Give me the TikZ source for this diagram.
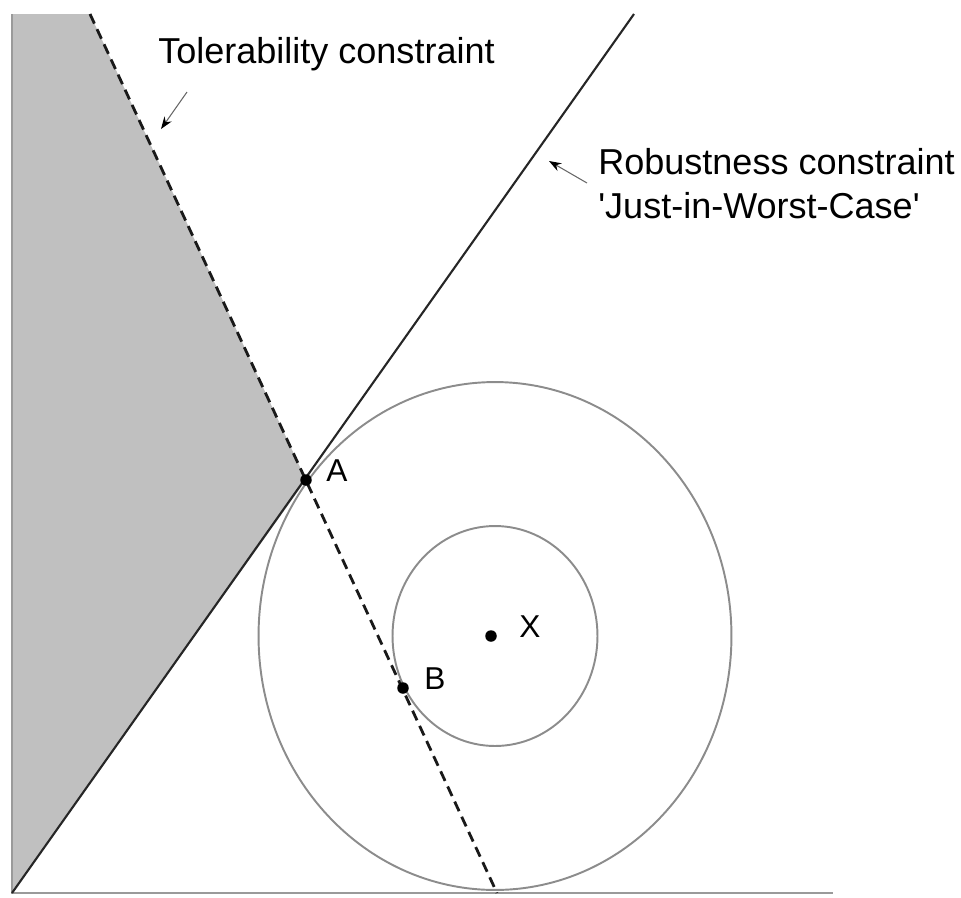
\documentclass[tikz,border=0pt]{standalone}
\usepackage{fontspec}
\setmainfont{Liberation Sans}
\usetikzlibrary{arrows.meta}
\definecolor{regiongray}{HTML}{C0C0C0}
\definecolor{axisgray}{HTML}{9A9A9A}
\definecolor{circgray}{HTML}{8C8C8C}
\tikzset{
  axisline/.style={draw=axisgray, line width=1.1pt},
  toler/.style={draw=black!90, line width=1.6pt, dash pattern=on 6pt off 3.5pt},
  robust/.style={draw=black!85, line width=1.2pt},
  ring/.style={draw=circgray, line width=1.1pt},
  pointer/.style={draw=black!60, line width=0.6pt, -{Stealth[length=7pt,width=5pt,black]}},
  dotpt/.style={circle, fill=black, inner sep=0pt, minimum size=0.23cm},
  bigtext/.style={font=\fontsize{20.5}{24.5}\selectfont, anchor=base west, inner sep=0pt, align=left},
  ptlabel/.style={font=\fontsize{18}{21}\selectfont, anchor=base west, inner sep=0pt}
}
\begin{document}
\begin{tikzpicture}[x=0.02cm, y=-0.02cm]
\useasboundingbox (0,0) rectangle (961,897);
% key points
\coordinate (O) at (12,893);
\coordinate (Ytop) at (12,14);
\coordinate (Xend) at (833,893);
\coordinate (Dtop) at (90,14);
\coordinate (Dbot) at (497,893);
\coordinate (Rtop) at (634,14);
\coordinate (Apt) at (306,480);
\coordinate (Ctr) at (495,636);
% shaded infeasible region
\fill[regiongray] (Ytop) -- (Dtop) -- (Apt) -- (O) -- cycle;
% axes
\draw[axisline] (Ytop) -- (O) -- (Xend);
% circles
\draw[ring] (Ctr) ellipse [x radius=4.73cm, y radius=5.08cm];
\draw[ring] (Ctr) ellipse [x radius=2.05cm, y radius=2.2cm];
% constraints
\draw[toler] (Dtop) -- (Dbot);
\draw[robust] (O) -- (Rtop);
% points
\node[dotpt] (A) at (Apt) {};
\node[dotpt] (B) at (403,688) {};
\node[dotpt] (X) at (491,636) {};
\node[ptlabel] (la) at (326,481) {A};
\node[ptlabel] (lb) at (424,689) {B};
\node[ptlabel] (lx) at (519,637) {X};
% labels
\node[bigtext] (tol) at (158,63) {Tolerability constraint};
\node[bigtext] (rob) at (598,218) {Robustness constraint\\\textquotesingle Just-in-Worst-Case\textquotesingle};
% pointers
\coordinate (t1) at (187,92);
\coordinate (t2) at (161,129);
\coordinate (r1) at (587,183);
\coordinate (r2) at (549,161);
\draw[pointer] (t1) -- (t2);
\draw[pointer] (r1) -- (r2);
\end{tikzpicture}
\end{document}
